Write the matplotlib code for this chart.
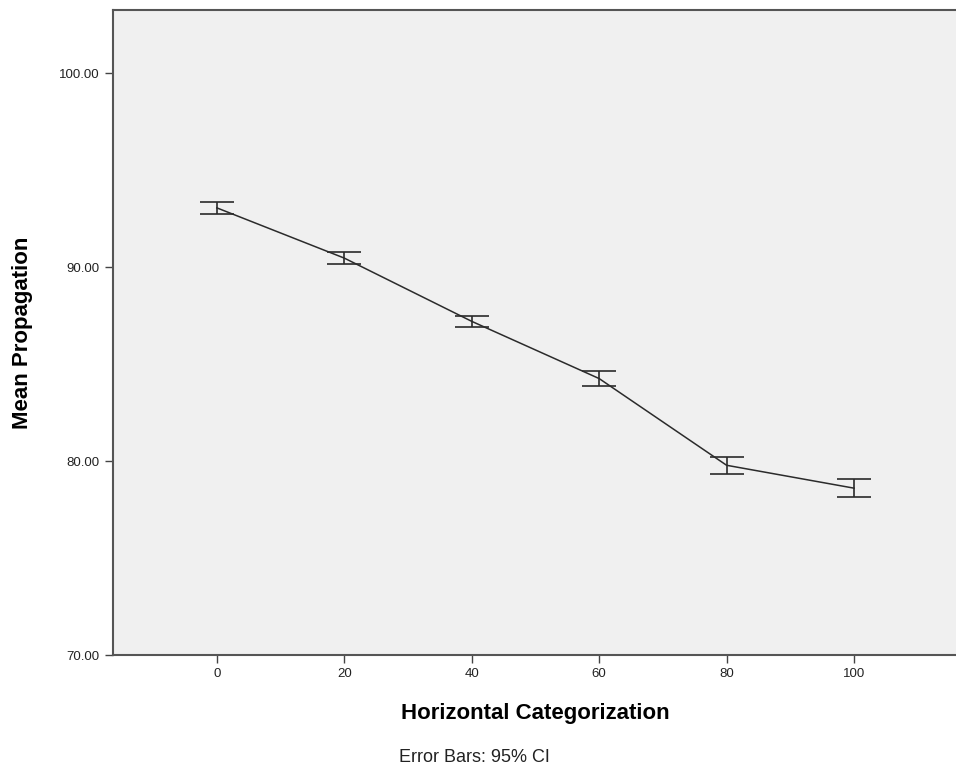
import matplotlib
matplotlib.use("Agg")
import matplotlib.pyplot as plt

plt.rcParams['font.family'] = ['Liberation Sans', 'DejaVu Sans']

# data
categories = [0, 20, 40, 60, 80, 100]
means = [93.05, 90.46, 87.2, 84.25, 79.78, 78.6]
ci_low = [92.75, 90.15, 86.9, 83.85, 79.35, 78.15]
ci_high = [93.35, 90.77, 87.5, 84.65, 80.22, 79.07]

err_lo = [m - l for m, l in zip(means, ci_low)]
err_hi = [h - m for m, h in zip(means, ci_high)]

fig = plt.figure(figsize=(9.56, 7.71), dpi=100)
ax = fig.add_axes([113/956, 1 - 655/771, 1 - 113/956, (655 - 10)/771])
ax.set_facecolor('#f0f0f0')

ax.errorbar(categories, means, yerr=[err_lo, err_hi], color='#2b2b2b', lw=1.1,
            ecolor='#2b2b2b', elinewidth=1.2, capsize=12, capthick=1.2)

ax.set_xlim(-16.3, 116)
ax.set_ylim(70, 103.25)
ax.set_xticks(categories)
ax.set_yticks([70, 80, 90, 100])
ax.set_yticklabels(['70.00', '80.00', '90.00', '100.00'])
ax.tick_params(axis='both', labelsize=9.5, length=6, width=1, color='#444444', labelcolor='#222222')

for s in ['left', 'bottom', 'top']:
    ax.spines[s].set_color('#555555')
    ax.spines[s].set_linewidth(1.5)
ax.spines['right'].set_visible(False)

ax.set_xlabel('Horizontal Categorization', fontsize=16, fontweight='bold')
ax.set_ylabel('Mean Propagation', fontsize=16, fontweight='bold')
ax.xaxis.set_label_coords((535 - 113)/843, -(703 - 655)/645)
ax.yaxis.set_label_coords(-(113 - 33)/843, 0.5)

fig.text(474/956, 1 - 758/771, 'Error Bars: 95% CI', fontsize=13, ha='center', va='center', color='#222222')

fig.savefig('out.png', dpi=100)
